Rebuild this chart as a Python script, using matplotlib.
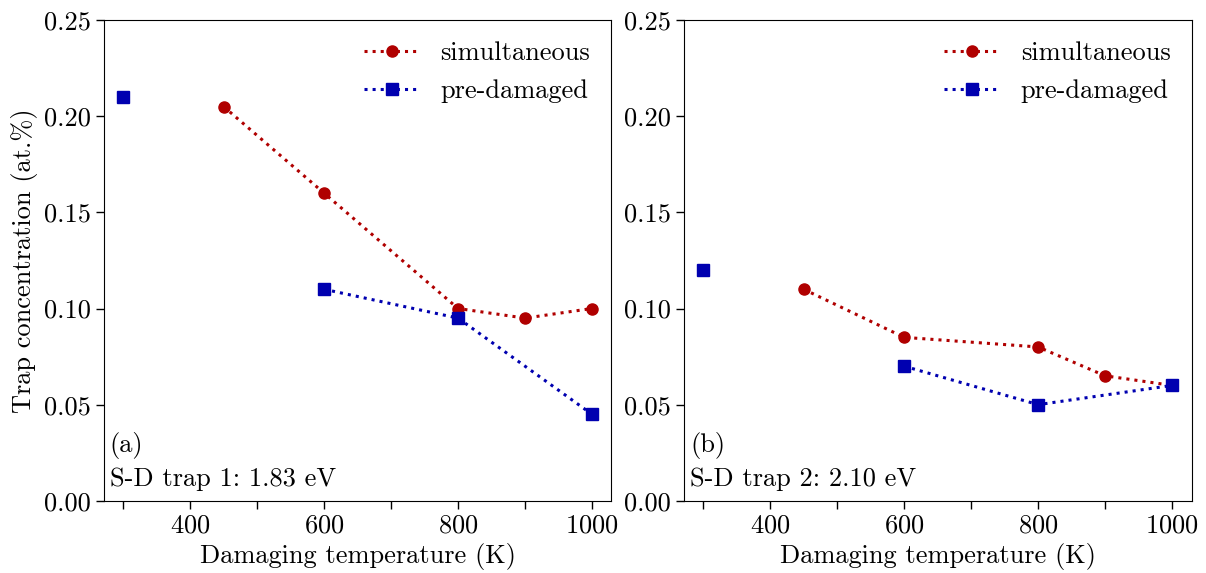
import matplotlib
matplotlib.use('Agg')
import matplotlib.pyplot as plt
import numpy as np
from matplotlib.ticker import MultipleLocator, FormatStrFormatter

plt.rcParams['font.family'] = 'cmr10'
plt.rcParams['mathtext.fontset'] = 'cm'
plt.rcParams['axes.formatter.use_mathtext'] = True
plt.rcParams['font.size'] = 19

# damaging temperatures (K)
temp_sim = [450, 600, 800, 900, 1000]
temp_pre = [300, 450, 600, 800, 1000]

# trap 1 (1.83 eV)
trap1_sim = [0.205, 0.16, 0.10, 0.095, 0.10]
trap1_pre = [0.21, np.nan, 0.11, 0.095, 0.045]

# trap 2 (2.10 eV)
trap2_sim = [0.11, 0.085, 0.08, 0.065, 0.06]
trap2_pre = [0.12, np.nan, 0.07, 0.05, 0.06]

panels = [('(a)', 'S-D trap 1: 1.83 eV', trap1_sim, trap1_pre),
          ('(b)', 'S-D trap 2: 2.10 eV', trap2_sim, trap2_pre)]

red = '#b00000'
blue = '#0000b0'

fig = plt.figure(figsize=(12.06, 5.73), dpi=100)
lefts = [0.086, 0.567]

for i, (tag, name, sim, pre) in enumerate(panels):
    ax = fig.add_axes([lefts[i], 0.126, 0.421, 0.839])
    ax.plot(temp_sim, sim, ':', color=red, marker='o', markersize=8,
            linewidth=2.2, label='simultaneous')
    ax.plot(temp_pre, pre, ':', color=blue, marker='s', markersize=8,
            linewidth=2.2, label='pre-damaged')
    ax.set_xlim(271, 1029)
    ax.set_ylim(0, 0.25)
    ax.xaxis.set_major_locator(MultipleLocator(200))
    ax.xaxis.set_minor_locator(MultipleLocator(100))
    ax.yaxis.set_major_locator(MultipleLocator(0.05))
    ax.yaxis.set_major_formatter(FormatStrFormatter('%.2f'))
    ax.tick_params(which='both', length=6, width=1)
    ax.set_xlabel('Damaging temperature (K)')
    if i == 0:
        ax.set_ylabel('Trap concentration (at.%)')
    ax.text(0.012, 0.115, tag, transform=ax.transAxes, va='center', ha='left')
    ax.text(0.012, 0.045, name, transform=ax.transAxes, va='center', ha='left')
    ax.legend(loc='upper right', frameon=False, fontsize=19,
              handlelength=2.1, labelspacing=0.55, borderaxespad=0.4)

fig.savefig('out.png', dpi=100)
